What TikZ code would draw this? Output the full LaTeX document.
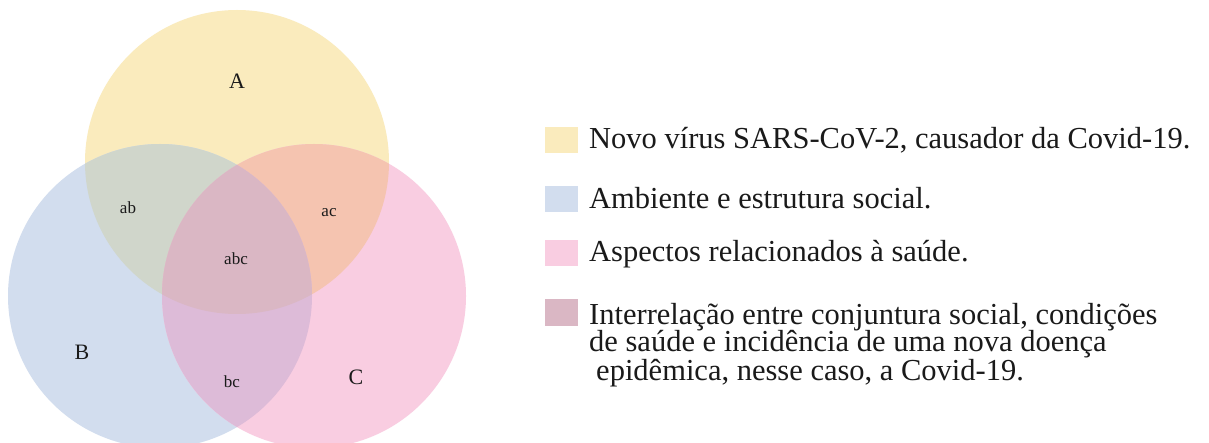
\documentclass[tikz,border=0pt]{standalone}
\usepackage{fontspec}
\setmainfont{Liberation Serif}
\definecolor{cA}{HTML}{FAEBBD}
\definecolor{cB}{HTML}{D2DDEE}
\definecolor{cC}{HTML}{F9CDE1}
\definecolor{cAB}{HTML}{D0D6CB}
\definecolor{cAC}{HTML}{F5C4B0}
\definecolor{cBC}{HTML}{DDBBD8}
\definecolor{cABC}{HTML}{DAB7C4}
\definecolor{ink}{HTML}{1A1A1A}
\begin{document}
\begin{tikzpicture}[x=1pt,y=-1pt,
  region/.style={font=\fontsize{17}{20}\selectfont, text=ink},
  setlabel/.style={font=\fontsize{22}{26}\selectfont, text=ink},
  swatch/.style={minimum width=33pt, minimum height=26pt, inner sep=0pt, draw=none},
  legtext/.style={font=\fontsize{30.5}{25}\selectfont, text=ink, anchor=base west, inner sep=0pt}]
\useasboundingbox (0,0) rectangle (1209,443);
\fill[white] (0,0) rectangle (1209,443);
\def\rr{152}
\coordinate (cA) at (237,162);
\coordinate (cB) at (160,296);
\coordinate (cC) at (314,296);
% base circles
\fill[cA] (cA) circle (\rr);
\fill[cB] (cB) circle (\rr);
\fill[cC] (cC) circle (\rr);
% pairwise overlaps
\begin{scope}\clip (cA) circle (\rr); \fill[cAB] (cB) circle (\rr); \end{scope}
\begin{scope}\clip (cA) circle (\rr); \fill[cAC] (cC) circle (\rr); \end{scope}
\begin{scope}\clip (cB) circle (\rr); \fill[cBC] (cC) circle (\rr); \end{scope}
\begin{scope}\clip (cA) circle (\rr); \clip (cB) circle (\rr); \fill[cABC] (cC) circle (\rr); \end{scope}
% labels
\node[setlabel] (lA) at (237,81) {A};
\node[setlabel] (lB) at (82,352) {B};
\node[setlabel] (lC) at (356,377) {C};
\node[region] (lab) at (128,208) {ab};
\node[region] (lac) at (329,213) {ac};
\node[region] (labc) at (236,259) {abc};
\node[region] (lbc) at (232,382) {bc};
% legend
\node[swatch, fill=cA] (s1) at (561.5,140) {};
\node[swatch, fill=cB] (s2) at (561.5,199.5) {};
\node[swatch, fill=cC] (s3) at (561.5,253.5) {};
\node[swatch, fill=cABC] (s4) at (561.5,312.5) {};
\node[legtext] (t4a) at (589,324) {Interrelação entre conjuntura social, condições};
\node[legtext] (t4b) at (589,352) {de saúde e incidência de uma nova doença};
\node[legtext] (t4c) at (596,380) {epidêmica, nesse caso, a Covid-19.};
\node[legtext] (t1) at (589,149) {Novo vírus SARS-CoV-2, causador da Covid-19.};
\node[legtext] (t2) at (589,209) {Ambiente e estrutura social.};
\node[legtext] (t3) at (589,262) {Aspectos relacionados à saúde.};
\end{tikzpicture}
\end{document}
